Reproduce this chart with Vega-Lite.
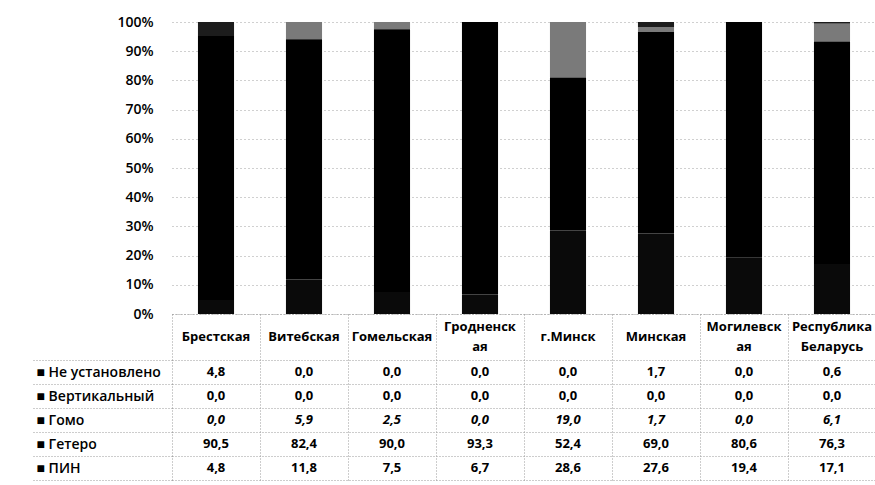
{
  "$schema": "https://vega.github.io/schema/vega-lite/v6.json",
  "padding": {"left": 30, "top": 15, "right": 0, "bottom": 0},
  "background": "white",
  "spacing": 0,
  "bounds": "flush",
  "config": {
    "locale": {"number": {"decimal": ",", "thousands": " ", "grouping": [3], "currency": ["", ""]}},
    "font": "Open Sans",
    "view": {"stroke": null}
  },
  "data": {
    "values": [
      {"region": "Брестская", "series": "Не установлено", "value": 4.8},
      {"region": "Брестская", "series": "Вертикальный", "value": 0.0},
      {"region": "Брестская", "series": "Гомо", "value": 0.0},
      {"region": "Брестская", "series": "Гетеро", "value": 90.5},
      {"region": "Брестская", "series": "ПИН", "value": 4.8},
      {"region": "Витебская", "series": "Не установлено", "value": 0.0},
      {"region": "Витебская", "series": "Вертикальный", "value": 0.0},
      {"region": "Витебская", "series": "Гомо", "value": 5.9},
      {"region": "Витебская", "series": "Гетеро", "value": 82.4},
      {"region": "Витебская", "series": "ПИН", "value": 11.8},
      {"region": "Гомельская", "series": "Не установлено", "value": 0.0},
      {"region": "Гомельская", "series": "Вертикальный", "value": 0.0},
      {"region": "Гомельская", "series": "Гомо", "value": 2.5},
      {"region": "Гомельская", "series": "Гетеро", "value": 90.0},
      {"region": "Гомельская", "series": "ПИН", "value": 7.5},
      {"region": "Гродненская", "series": "Не установлено", "value": 0.0},
      {"region": "Гродненская", "series": "Вертикальный", "value": 0.0},
      {"region": "Гродненская", "series": "Гомо", "value": 0.0},
      {"region": "Гродненская", "series": "Гетеро", "value": 93.3},
      {"region": "Гродненская", "series": "ПИН", "value": 6.7},
      {"region": "г.Минск", "series": "Не установлено", "value": 0.0},
      {"region": "г.Минск", "series": "Вертикальный", "value": 0.0},
      {"region": "г.Минск", "series": "Гомо", "value": 19.0},
      {"region": "г.Минск", "series": "Гетеро", "value": 52.4},
      {"region": "г.Минск", "series": "ПИН", "value": 28.6},
      {"region": "Минская", "series": "Не установлено", "value": 1.7},
      {"region": "Минская", "series": "Вертикальный", "value": 0.0},
      {"region": "Минская", "series": "Гомо", "value": 1.7},
      {"region": "Минская", "series": "Гетеро", "value": 69.0},
      {"region": "Минская", "series": "ПИН", "value": 27.6},
      {"region": "Могилевская", "series": "Не установлено", "value": 0.0},
      {"region": "Могилевская", "series": "Вертикальный", "value": 0.0},
      {"region": "Могилевская", "series": "Гомо", "value": 0.0},
      {"region": "Могилевская", "series": "Гетеро", "value": 80.6},
      {"region": "Могилевская", "series": "ПИН", "value": 19.4},
      {"region": "Республика Беларусь", "series": "Не установлено", "value": 0.6},
      {"region": "Республика Беларусь", "series": "Вертикальный", "value": 0.0},
      {"region": "Республика Беларусь", "series": "Гомо", "value": 6.1},
      {"region": "Республика Беларусь", "series": "Гетеро", "value": 76.3},
      {"region": "Республика Беларусь", "series": "ПИН", "value": 17.1}
    ]
  },
  "vconcat": [
    {
      "width": 704,
      "height": 292,
      "transform": [
        {"calculate": "indexof(['ПИН', 'Гетеро', 'Гомо', 'Вертикальный', 'Не установлено'], datum.series)", "as": "stack_order"}
      ],
      "mark": {"type": "bar", "width": {"band": 0.41}},
      "encoding": {
        "x": {
          "field": "region", "type": "nominal",
          "sort": ["Брестская", "Витебская", "Гомельская", "Гродненская", "г.Минск", "Минская", "Могилевская", "Республика Беларусь"],
          "scale": {"paddingInner": 0, "paddingOuter": 0},
          "axis": {
            "title": null, "labels": false, "ticks": false,
            "domain": true, "domainColor": "#9a9a9a", "domainDash": [1, 2]
          }
        },
        "y": {
          "field": "value", "type": "quantitative", "stack": "normalize",
          "scale": {"domain": [0, 1], "nice": false},
          "axis": {
            "title": null, "format": ".0%", "values": [0, 0.1, 0.2, 0.3, 0.4, 0.5, 0.6, 0.7, 0.8, 0.9, 1],
            "ticks": false, "domain": false, "labelPadding": 19,
            "labelFont": "Open Sans", "labelFontSize": 14, "labelFontWeight": 600, "labelColor": "#000",
            "grid": true, "gridColor": "#a0a0a0", "gridDash": [1, 3], "gridWidth": 1
          }
        },
        "order": {"field": "stack_order", "type": "quantitative", "sort": "ascending"},
        "color": {
          "field": "series", "type": "nominal",
          "scale": {
            "domain": ["ПИН", "Гетеро", "Гомо", "Вертикальный", "Не установлено"],
            "range": ["#0a0a0a", "#000000", "#7a7a7a", "#111111", "#1c1c1c"]
          },
          "legend": null
        }
      }
    },
    {
      "width": 704,
      "height": 46,
      "transform": [
        {"filter": "datum.series == 'ПИН'"},
        {"calculate": "datum.region == 'Гродненская' ? ['Гродненск', 'ая'] : datum.region == 'Могилевская' ? ['Могилевск', 'ая'] : datum.region == 'Республика Беларусь' ? ['Республика', 'Беларусь'] : datum.region", "as": "header"}
      ],
      "encoding": {
        "x": {
          "field": "region", "type": "nominal",
          "sort": ["Брестская", "Витебская", "Гомельская", "Гродненская", "г.Минск", "Минская", "Могилевская", "Республика Беларусь"],
          "scale": {"paddingInner": 0, "paddingOuter": 0},
          "axis": {
            "title": null, "labels": false, "ticks": false, "domain": false,
            "grid": true, "tickBand": "extent", "gridColor": "#9a9a9a", "gridDash": [1, 2], "gridWidth": 1
          }
        }
      },
      "layer": [
        {
          "transform": [{"filter": "datum.region != 'Гродненская' && datum.region != 'Могилевская' && datum.region != 'Республика Беларусь'"}],
          "mark": {"type": "text", "font": "Open Sans", "fontSize": 13, "fontWeight": "bold", "color": "#000", "baseline": "middle"},
          "encoding": {"text": {"field": "header"}}
        },
        {
          "transform": [{"filter": "datum.region == 'Гродненская' || datum.region == 'Могилевская' || datum.region == 'Республика Беларусь'"}],
          "mark": {"type": "text", "font": "Open Sans", "fontSize": 13, "fontWeight": "bold", "color": "#000", "baseline": "middle", "lineHeight": 20, "dy": -10},
          "encoding": {"text": {"field": "header"}}
        }
      ]
    },
    {
      "width": 704,
      "height": 120,
      "encoding": {
        "x": {
          "field": "region", "type": "nominal",
          "sort": ["Брестская", "Витебская", "Гомельская", "Гродненская", "г.Минск", "Минская", "Могилевская", "Республика Беларусь"],
          "scale": {"paddingInner": 0, "paddingOuter": 0},
          "axis": {
            "title": null, "labels": false, "ticks": false, "domain": false,
            "grid": true, "tickBand": "extent", "gridColor": "#9a9a9a", "gridDash": [1, 2], "gridWidth": 1
          }
        },
        "y": {
          "field": "series", "type": "nominal",
          "sort": ["Не установлено", "Вертикальный", "Гомо", "Гетеро", "ПИН"],
          "scale": {"paddingInner": 0, "paddingOuter": 0},
          "axis": {
            "title": null, "domain": false,
            "grid": true, "tickBand": "extent", "gridColor": "#9a9a9a", "gridDash": [1, 2], "gridWidth": 1,
            "ticks": true, "tickSize": 141, "tickColor": "#9a9a9a", "tickDash": [1, 2], "tickWidth": 1,
            "labelPadding": -5, "labelAlign": "left", "labelBaseline": "middle",
            "labelFont": "Open Sans", "labelFontSize": 14, "labelFontWeight": 600, "labelColor": "#000",
            "labelLimit": 200,
            "labelExpr": "datum.label ? '■ ' + datum.label : ''"
          }
        }
      },
      "layer": [
        {
          "transform": [{"filter": "datum.series != 'Гомо'"}],
          "mark": {"type": "text", "font": "Open Sans", "fontSize": 13, "fontWeight": "bold", "color": "#000"},
          "encoding": {"text": {"field": "value", "type": "quantitative", "format": ".1f"}}
        },
        {
          "transform": [{"filter": "datum.series == 'Гомо'"}],
          "mark": {"type": "text", "font": "Open Sans", "fontSize": 13, "fontWeight": "bold", "fontStyle": "italic", "color": "#000"},
          "encoding": {"text": {"field": "value", "type": "quantitative", "format": ".1f"}}
        }
      ]
    }
  ]
}
